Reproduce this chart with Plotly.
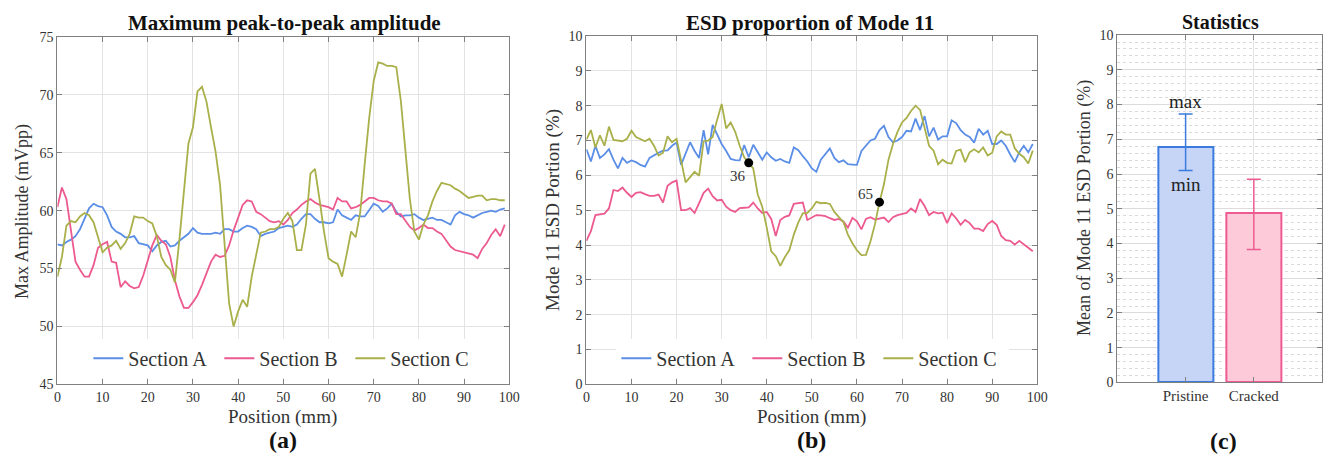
import plotly.graph_objects as go

# ---------------- data ----------------
position_mm = list(range(100))

# (a) maximum peak-to-peak amplitude, mVpp
amp_section_a = [57.1, 57.0, 57.3, 57.5, 57.8, 58.4, 59.3, 60.2, 60.6, 60.4,
                 60.3, 59.6, 58.6, 58.2, 58.0, 57.7, 57.7, 57.8, 57.2, 57.1,
                 57.0, 56.5, 57.0, 57.3, 57.4, 56.9, 57.0, 57.4, 57.7, 58.0,
                 58.5, 58.1, 58.0, 58.0, 58.0, 58.1, 58.0, 58.4, 58.4, 58.2,
                 58.2, 58.5, 58.7, 58.6, 58.4, 57.8, 58.0, 58.1, 58.2, 58.5,
                 58.6, 58.7, 58.6, 58.8, 59.3, 59.7, 59.7, 59.3, 59.0, 59.0,
                 58.9, 59.0, 60.1, 59.6, 59.4, 59.2, 59.6, 59.5, 59.5, 60.1,
                 60.6, 60.4, 59.9, 60.2, 60.6, 59.9, 59.5, 59.6, 59.6, 59.7,
                 59.4, 59.2, 59.3, 59.4, 59.2, 59.2, 59.0, 58.8, 59.6, 59.9,
                 59.7, 59.6, 59.4, 59.6, 59.8, 59.9, 60.0, 59.9, 60.1, 60.2]
amp_section_b = [60.3, 62.0, 61.0, 58.4, 55.6, 54.9, 54.3, 54.3, 55.3, 56.8,
                 57.1, 57.3, 55.6, 55.5, 53.4, 53.9, 53.5, 53.3, 53.4, 54.4,
                 55.6, 57.0, 57.9, 57.4, 57.1, 56.0, 54.0, 52.6, 51.6, 51.6,
                 52.1, 52.7, 53.6, 54.6, 55.6, 56.2, 56.0, 56.1, 57.0, 58.3,
                 59.5, 60.5, 60.9, 60.8, 59.9, 59.7, 59.4, 59.1, 59.0, 59.1,
                 58.8, 59.2, 59.8, 60.1, 60.5, 60.8, 61.0, 60.7, 60.5, 60.4,
                 60.3, 60.1, 61.1, 60.8, 60.8, 60.2, 60.3, 60.5, 60.8, 61.1,
                 61.1, 60.9, 60.8, 60.8, 60.6, 59.7, 59.7, 59.1, 58.6, 58.3,
                 58.5, 58.8, 58.5, 58.5, 58.2, 58.0, 57.4, 56.9, 56.6, 56.5,
                 56.4, 56.3, 56.2, 55.9, 56.7, 57.2, 57.9, 58.4, 57.8, 58.8]
amp_section_c = [54.3, 56.0, 58.7, 59.1, 59.0, 59.5, 59.8, 59.6, 59.0, 57.8,
                 56.4, 56.8, 57.0, 57.4, 56.7, 57.2, 58.0, 59.5, 59.4, 59.4,
                 59.1, 58.9, 57.8, 56.0, 55.3, 54.9, 53.8, 57.5, 61.6, 65.8,
                 67.2, 70.3, 70.7, 69.4, 67.2, 65.1, 62.2, 57.0, 52.0, 50.0,
                 51.3, 52.3, 51.7, 54.3, 56.2, 58.1, 58.2, 58.4, 58.4, 58.6,
                 59.3, 59.8, 59.1, 56.6, 56.6, 58.8, 63.2, 63.6, 61.0, 58.2,
                 55.9, 55.6, 55.4, 54.3, 56.2, 58.2, 57.7, 59.8, 64.0, 68.0,
                 71.2, 72.8, 72.7, 72.5, 72.5, 72.4, 69.5, 65.0, 61.0, 58.2,
                 57.5, 58.8, 59.6, 60.8, 61.7, 62.4, 62.3, 62.2, 61.9, 61.7,
                 61.4, 61.1, 61.2, 61.3, 61.3, 60.9, 61.0, 61.0, 60.9, 60.9]

# (b) ESD proportion of mode 11, %
esd_section_a = [6.75, 6.40, 6.85, 6.50, 6.60, 6.75, 6.45, 6.20, 6.50, 6.36,
                 6.43, 6.38, 6.30, 6.25, 6.50, 6.58, 6.65, 6.71, 6.72, 6.85,
                 6.94, 6.30, 6.60, 6.95, 6.70, 6.50, 7.30, 6.60, 7.45, 7.17,
                 6.90, 6.70, 6.47, 6.44, 6.43, 6.87, 6.52, 6.88, 6.68, 6.45,
                 6.66, 6.52, 6.42, 6.47, 6.40, 6.36, 6.80, 6.72, 6.55, 6.40,
                 6.20, 6.10, 6.45, 6.60, 6.77, 6.50, 6.38, 6.43, 6.32, 6.31,
                 6.30, 6.70, 6.85, 7.00, 7.05, 7.30, 7.42, 7.10, 6.95, 7.00,
                 7.10, 7.28, 7.26, 7.63, 7.30, 7.70, 7.12, 7.37, 7.03, 7.12,
                 7.12, 7.58, 7.50, 7.30, 7.17, 7.10, 6.94, 7.34, 7.17, 7.28,
                 6.90, 6.90, 7.00, 6.85, 6.60, 6.38, 6.66, 6.85, 6.66, 6.90]
esd_section_b = [4.12, 4.40, 4.86, 4.88, 4.90, 5.05, 5.58, 5.55, 5.65, 5.50,
                 5.38, 5.50, 5.52, 5.46, 5.41, 5.41, 5.45, 5.22, 5.70, 5.80,
                 5.85, 5.00, 5.00, 5.06, 4.92, 5.20, 5.50, 5.62, 5.40, 5.28,
                 5.30, 5.10, 5.00, 4.95, 5.06, 5.07, 5.08, 5.22, 5.05, 4.92,
                 4.95, 4.75, 4.26, 4.72, 4.81, 4.85, 5.18, 5.20, 5.22, 4.72,
                 4.80, 4.86, 4.85, 4.83, 4.77, 4.72, 4.75, 4.68, 4.50, 4.78,
                 4.68, 4.45, 4.75, 4.80, 4.73, 4.77, 4.79, 4.66, 4.80, 4.86,
                 4.88, 4.92, 5.05, 4.95, 5.32, 5.12, 4.86, 4.95, 4.91, 4.93,
                 4.63, 4.91, 4.77, 4.58, 4.72, 4.63, 4.47, 4.47, 4.40, 4.60,
                 4.69, 4.58, 4.26, 4.14, 4.12, 4.01, 4.12, 4.03, 3.92, 3.82]
esd_section_c = [7.03, 7.30, 6.80, 7.15, 6.85, 7.40, 7.02, 7.00, 6.98, 7.05,
                 7.28, 7.10, 7.05, 6.98, 7.05, 6.85, 6.57, 6.65, 7.12, 6.95,
                 7.05, 6.38, 5.80, 5.95, 6.10, 5.99, 6.98, 7.00, 7.10, 7.60,
                 8.05, 7.35, 7.52, 7.25, 6.85, 6.52, 6.36, 6.20, 5.45, 5.10,
                 4.50, 3.82, 3.68, 3.40, 3.65, 3.85, 4.30, 4.65, 4.91, 4.92,
                 5.05, 5.24, 5.20, 5.21, 5.18, 4.95, 4.80, 4.66, 4.30, 4.05,
                 3.85, 3.71, 3.72, 4.10, 4.60, 5.23, 5.75, 6.45, 6.90, 7.25,
                 7.52, 7.65, 7.85, 8.00, 7.88, 7.40, 6.85, 6.71, 6.32, 6.45,
                 6.36, 6.34, 6.70, 6.74, 6.38, 6.66, 6.75, 6.66, 6.80, 6.57,
                 6.65, 7.12, 7.26, 7.17, 7.17, 6.78, 6.62, 6.52, 6.34, 6.71]

# positions (mm) marked on section C in panel (b)
marked_positions = [36, 65]

# (c) statistics of mode 11 ESD portion, %
stat_groups = ["Pristine", "Cracked"]
stat_mean = [6.78, 4.88]
stat_max = [7.73, 5.85]
stat_min = [6.10, 3.83]

# ---------------- styling ----------------
SERIF = "Liberation Serif"
C_A = "#5b8ee6"
C_B = "#ec5a8f"
C_C = "#a9b04a"
BAR_FILL = ["#c6d4f6", "#fdcad9"]
BAR_EDGE = ["#3b7be0", "#ee5b92"]
GRID = "#e3e3e3"
FRAME = "#808080"
TICKFONT = dict(family=SERIF, size=14, color="#333333")

W, H = 1338, 463


def px_x(p):
    return p / W


def px_y(p):
    return 1 - p / H


fig = go.Figure()

series_a = [("Section A", amp_section_a, C_A),
            ("Section B", amp_section_b, C_B),
            ("Section C", amp_section_c, C_C)]
series_b = [("Section A", esd_section_a, C_A),
            ("Section B", esd_section_b, C_B),
            ("Section C", esd_section_c, C_C)]

for name, vals, col in series_a:
    fig.add_trace(go.Scatter(x=position_mm, y=vals, mode="lines", name=name,
                             line=dict(color=col, width=1.8),
                             xaxis="x", yaxis="y", legend="legend"))

for name, vals, col in series_b:
    fig.add_trace(go.Scatter(x=position_mm, y=vals, mode="lines", name=name,
                             line=dict(color=col, width=1.8),
                             xaxis="x2", yaxis="y2", legend="legend2"))

# black markers on section C
mx = [position_mm[i] for i in marked_positions]
my = [esd_section_c[i] for i in marked_positions]
fig.add_trace(go.Scatter(x=mx, y=my, mode="markers", showlegend=False,
                         marker=dict(color="black", size=9),
                         xaxis="x2", yaxis="y2"))

# bars with min/max range
for i, g in enumerate(stat_groups):
    fig.add_trace(go.Bar(
        x=[i + 1], y=[stat_mean[i]], width=0.8, showlegend=False,
        marker=dict(color=BAR_FILL[i], line=dict(color=BAR_EDGE[i], width=2)),
        error_y=dict(type="data", symmetric=False,
                     array=[stat_max[i] - stat_mean[i]],
                     arrayminus=[stat_mean[i] - stat_min[i]],
                     color=BAR_EDGE[i], thickness=1.5, width=7),
        xaxis="x3", yaxis="y3"))

common = dict(showline=True, mirror="ticks", linecolor=FRAME, linewidth=1,
              ticks="inside", ticklen=5, tickcolor=FRAME, tickfont=TICKFONT,
              showgrid=True, gridcolor=GRID, gridwidth=1, zeroline=False)

legend_style = dict(orientation="h", xanchor="center", y=px_y(363), yanchor="middle",
                    bgcolor="white", borderwidth=0,
                    font=dict(family=SERIF, size=20, color="#333333"),
                    itemwidth=30, entrywidth=86, entrywidthmode="pixels")

fig.update_layout(
    width=W, height=H, margin=dict(l=0, r=0, t=0, b=0),
    paper_bgcolor="white", plot_bgcolor="white",
    font=dict(family=SERIF, color="#222222"),
    bargap=0,
    xaxis=dict(domain=[px_x(54), px_x(511)], range=[0, 100], tickvals=list(range(0, 101, 10)),
               anchor="y", **common),
    yaxis=dict(domain=[px_y(390), px_y(31)], range=[45, 75], tickvals=list(range(45, 76, 5)),
               anchor="x", **common),
    xaxis2=dict(domain=[px_x(589), px_x(1045)], range=[0, 100], tickvals=list(range(0, 101, 10)),
                anchor="y2", **common),
    yaxis2=dict(domain=[px_y(390), px_y(30)], range=[0, 10], tickvals=list(range(0, 11)),
                anchor="x2", **common),
    xaxis3=dict(domain=[px_x(1126), px_x(1333)], range=[0, 3], tickvals=[1, 2],
                ticktext=stat_groups, anchor="y3",
                **{**common, "tickfont": dict(family=SERIF, size=15, color="#333333")}),
    yaxis3=dict(domain=[px_y(388), px_y(29)], range=[0, 10], tickvals=list(range(0, 11)),
                anchor="x3",
                minor=dict(dtick=0.2, showgrid=True, gridcolor="#dadada", griddash="dot",
                           gridwidth=1),
                **{**common, "gridcolor": "#dcdcdc"}),
    legend=dict(x=px_x(284), **legend_style),
    legend2=dict(x=px_x(818), **legend_style),
)

ann = []


def text(x, y, s, size, bold=False, angle=0, color="#111111"):
    ann.append(dict(xref="paper", yref="paper", x=px_x(x), y=px_y(y), text=f"<b>{s}</b>" if bold else s,
                    showarrow=False, xanchor="center", yanchor="middle", textangle=angle,
                    font=dict(family=SERIF, size=size, color=color)))


# panel titles
text(284, 17, "Maximum peak-to-peak amplitude", 21, bold=True)
text(815, 17, "ESD proportion of Mode 11", 21, bold=True)
text(1230, 15, "Statistics", 20, bold=True)
# axis titles
text(282, 424, "Position (mm)", 19, color="#333333")
text(817, 424, "Position (mm)", 19, color="#333333")
text(18, 211, "Max Amplitude (mVpp)", 18, angle=-90, color="#333333")
text(555, 210, "Mode 11 ESD Portion (%)", 19, angle=-90, color="#333333")
text(1093, 208, "Mean of Mode 11 ESD Portion (%)", 18, angle=-90, color="#333333")
# panel letters
text(282, 448, "(a)", 24, bold=True)
text(817, 448, "(b)", 24, bold=True)
text(1233, 449, "(c)", 24, bold=True)

# labels for the marked positions
for (xv, yv, dx, dy) in [(mx[0], my[0], -11, -13), (mx[1], my[1], -14, 8)]:
    ann.append(dict(xref="x2", yref="y2", x=xv, y=yv, text=str(xv), showarrow=False,
                    xshift=dx, yshift=dy, font=dict(family=SERIF, size=15, color="#333333")))

# min / max markers on the pristine bar
ann.append(dict(xref="x3", yref="y3", x=1, y=stat_max[0], text="max", showarrow=False,
                yanchor="bottom", yshift=0, font=dict(family=SERIF, size=19, color="#222222")))
ann.append(dict(xref="x3", yref="y3", x=1, y=stat_min[0], text="min", showarrow=False,
                yanchor="top", yshift=-1, font=dict(family=SERIF, size=19, color="#222222")))

fig.update_layout(annotations=ann)

fig.write_html("out.html")
